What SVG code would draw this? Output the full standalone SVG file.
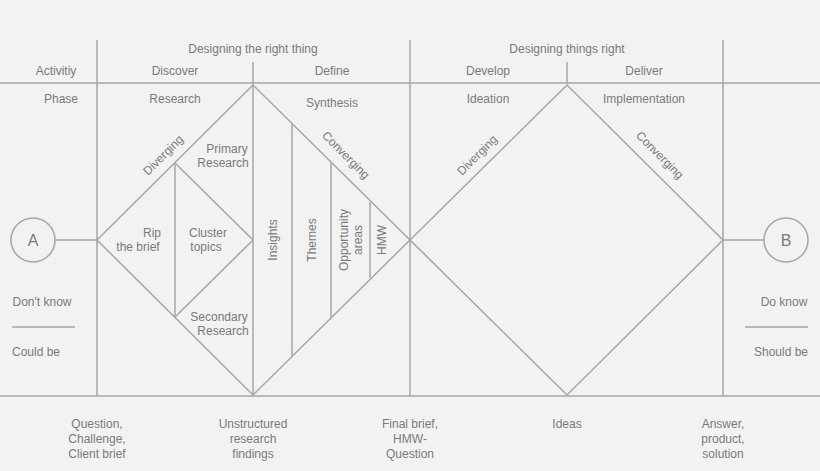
<svg xmlns="http://www.w3.org/2000/svg" width="820" height="471" viewBox="0 0 820 471">
<style>
.l{stroke:#a6a6a6;stroke-width:1.5;fill:none}
.t{font-family:"Liberation Sans",Arial,sans-serif;font-size:12px;fill:#7a7a7a;text-anchor:middle}
.s{font-family:"Liberation Sans",Arial,sans-serif;font-size:16px;fill:#7a7a7a;text-anchor:middle}
</style>
<rect width="820" height="471" fill="#f2f2f2"/>
<g id="connectors">
<line class="l" x1="0" y1="83" x2="820" y2="83"/>
<line class="l" x1="0" y1="396" x2="820" y2="396"/>
<line class="l" x1="97" y1="40" x2="97" y2="396"/>
<line class="l" x1="410" y1="40" x2="410" y2="396"/>
<line class="l" x1="723" y1="40" x2="723" y2="396"/>
<line class="l" x1="253" y1="62" x2="253" y2="395"/>
<line class="l" x1="567" y1="62" x2="567" y2="83"/>
<line class="l" x1="55" y1="240" x2="97" y2="240"/>
<line class="l" x1="723" y1="240" x2="764" y2="240"/>
<line class="l" x1="12" y1="327" x2="75" y2="327"/>
<line class="l" x1="745" y1="327" x2="808" y2="327"/>
</g>
<g id="diamond1">
<polygon class="l" points="97,240 253,85 410,240 253,395"/>
<line class="l" x1="175" y1="163" x2="175" y2="317"/>
<polyline class="l" points="175,163 253,240 175,317"/>
<line class="l" x1="292" y1="124" x2="292" y2="356"/>
<line class="l" x1="331" y1="163" x2="331" y2="317"/>
<line class="l" x1="370" y1="202" x2="370" y2="278"/>
<text class="t" transform="translate(166,158) rotate(-45)">Diverging</text>
<text class="t" transform="translate(343,158) rotate(45)">Converging</text>
<text class="t" x="152" y="237">Rip</text><text class="t" x="138" y="251">the brief</text>
<text class="t" x="208" y="237">Cluster</text><text class="t" x="206" y="251">topics</text>
<text class="t" x="227" y="153">Primary</text><text class="t" x="223" y="167">Research</text>
<text class="t" x="219" y="321">Secondary</text><text class="t" x="223" y="335">Research</text>
<text class="t" transform="translate(277,240) rotate(-90)">Insights</text>
<text class="t" transform="translate(316,240) rotate(-90)">Themes</text>
<text class="t" transform="translate(348,240) rotate(-90)">Opportunity</text>
<text class="t" transform="translate(362,240) rotate(-90)">areas</text>
<text class="t" transform="translate(386,240) rotate(-90)">HMW</text>
</g>
<g id="diamond2">
<polygon class="l" points="410,240 567,85 723,240 567,395"/>
<text class="t" transform="translate(480,158) rotate(-45)">Diverging</text>
<text class="t" transform="translate(657,158) rotate(45)">Converging</text>
</g>
<g id="A"><circle class="l" cx="33" cy="240" r="22"/><text class="s" x="33" y="246">A</text></g>
<g id="B"><circle class="l" cx="786" cy="240" r="22"/><text class="s" x="786" y="246">B</text></g>
<g id="labels">
<text class="t" x="253" y="53">Designing the right thing</text>
<text class="t" x="567" y="53">Designing things right</text>
<text class="t" x="56" y="75">Activitiy</text>
<text class="t" x="175" y="75">Discover</text>
<text class="t" x="332" y="75">Define</text>
<text class="t" x="488" y="75">Develop</text>
<text class="t" x="644" y="75">Deliver</text>
<text class="t" x="61" y="103">Phase</text>
<text class="t" x="175" y="103">Research</text>
<text class="t" x="332" y="107">Synthesis</text>
<text class="t" x="488" y="103">Ideation</text>
<text class="t" x="644" y="103">Implementation</text>
<text class="t" x="42" y="306">Don't know</text>
<text class="t" x="36" y="356">Could be</text>
<text class="t" x="784" y="306">Do know</text>
<text class="t" x="781" y="356">Should be</text>
<text class="t" x="97" y="428">Question,</text><text class="t" x="97" y="443">Challenge,</text><text class="t" x="97" y="458">Client brief</text>
<text class="t" x="253" y="428">Unstructured</text><text class="t" x="253" y="443">research</text><text class="t" x="253" y="458">findings</text>
<text class="t" x="410" y="428">Final brief,</text><text class="t" x="410" y="443">HMW-</text><text class="t" x="410" y="458">Question</text>
<text class="t" x="567" y="428">Ideas</text>
<text class="t" x="723" y="428">Answer,</text><text class="t" x="723" y="443">product,</text><text class="t" x="723" y="458">solution</text>
</g>
</svg>
